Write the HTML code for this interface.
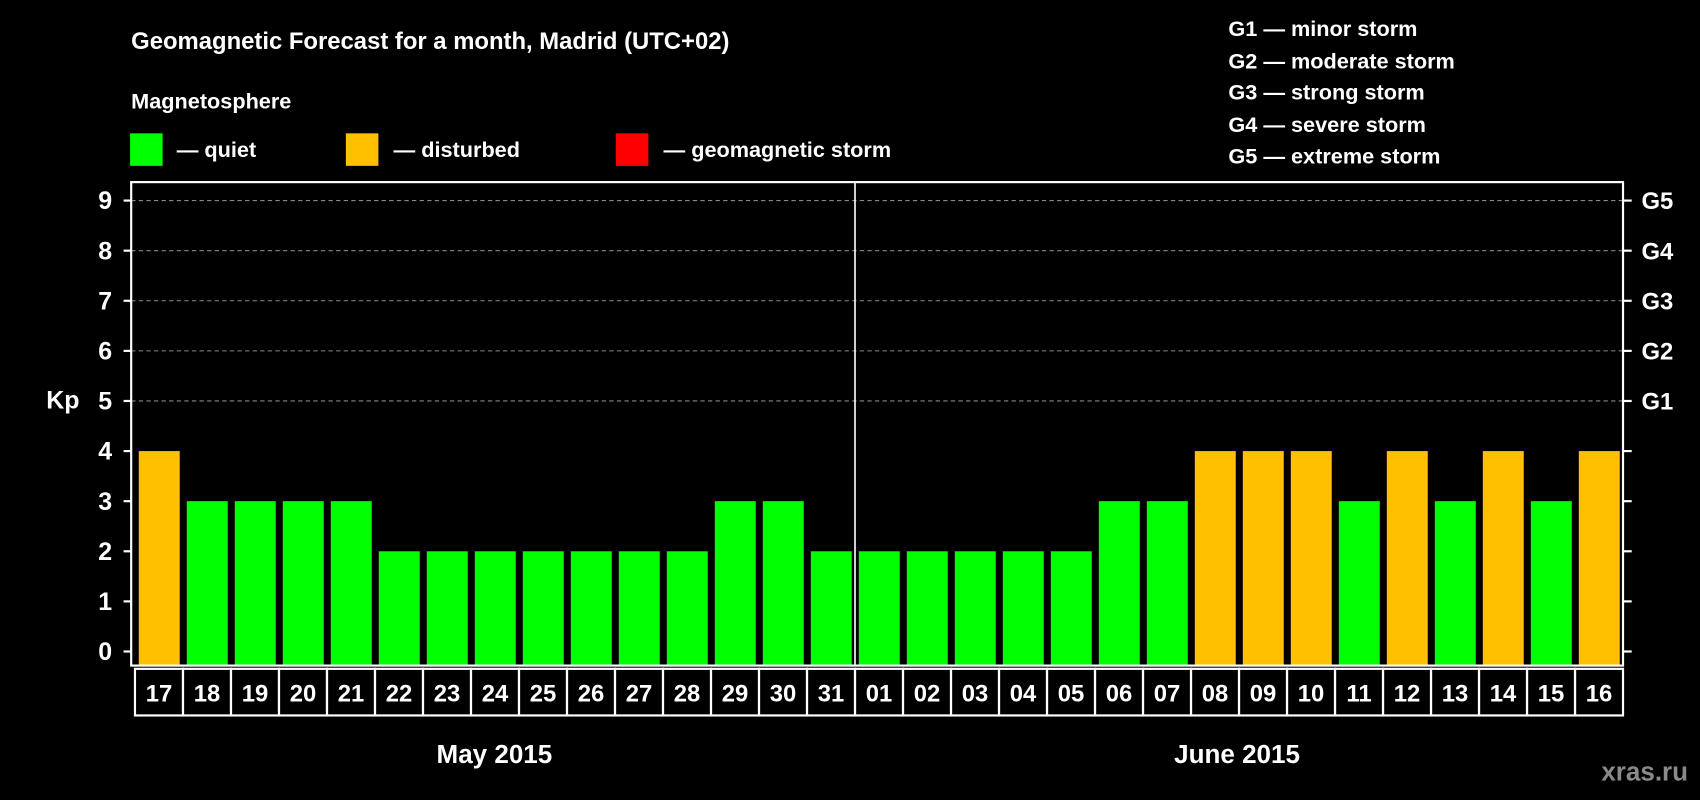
<!DOCTYPE html>
<html><head><meta charset="utf-8"><style>
html,body{margin:0;padding:0;background:#000;}
svg{display:block;font-family:"Liberation Sans",sans-serif;font-weight:bold;}
</style></head><body>
<svg id="chart" width="1700" height="800" viewBox="0 0 1568 738" preserveAspectRatio="none" xmlns="http://www.w3.org/2000/svg">
<rect x="0" y="0" width="1568" height="738" fill="#000"/>
<text x="121" y="45" fill="#fff" font-size="22">Geomagnetic Forecast for a month, Madrid (UTC+02)</text>
<text x="121" y="100" fill="#fff" font-size="20">Magnetosphere</text>
<g>
<rect x="120" y="123" width="30" height="30" fill="#00ff00"/>
<text x="163" y="145" fill="#fff" font-size="20">— quiet</text>
<rect x="319" y="123" width="30" height="30" fill="#ffc000"/>
<text x="363" y="145" fill="#fff" font-size="20">— disturbed</text>
<rect x="568" y="123" width="30" height="30" fill="#ff0000"/>
<text x="612" y="145" fill="#fff" font-size="20">— geomagnetic storm</text>
</g>
<g fill="#fff" font-size="20">
<text x="1133" y="33">G1 — minor storm</text>
<text x="1133" y="63">G2 — moderate storm</text>
<text x="1133" y="92">G3 — strong storm</text>
<text x="1133" y="122">G4 — severe storm</text>
<text x="1133" y="151">G5 — extreme storm</text>
</g>
<text x="58" y="377" fill="#fff" font-size="23" text-anchor="middle">Kp</text>
<g id="grid"></g><g id="bars"></g><g id="axes"></g><g id="xlabels"></g>
<text x="456" y="704" fill="#fff" font-size="24" text-anchor="middle">May 2015</text>
<text x="1141" y="704" fill="#fff" font-size="24" text-anchor="middle">June 2015</text>
<text x="1557" y="720" fill="#8a8a8a" font-size="24" text-anchor="end">xras.ru</text>
</svg>
<script>
const days = ["17","18","19","20","21","22","23","24","25","26","27","28","29","30","31","01","02","03","04","05","06","07","08","09","10","11","12","13","14","15","16"];
const kp = [4,3,3,3,3,2,2,2,2,2,2,2,3,3,2,2,2,2,2,2,3,3,4,4,4,3,4,3,4,3,4];
const yTicks = [0,1,2,3,4,5,6,7,8,9];
const gLabels = ["G1","G2","G3","G4","G5"];
const gLevels = [5,6,7,8,9];

const NS="http://www.w3.org/2000/svg";
const L=124.5, R=1497, T=168, B=614;
const step=(R-L)/days.length;
function x(i){return L+i*step;}
function y(v){return 601-v*46.22;}
function mk(tag,attrs,parent){const e=document.createElementNS(NS,tag);for(const k in attrs)e.setAttribute(k,attrs[k]);parent.appendChild(e);return e;}
const grid=document.getElementById('grid'),bars=document.getElementById('bars'),axes=document.getElementById('axes'),xl=document.getElementById('xlabels');
gLevels.forEach((g,i)=>{
  const ln=mk('line',{x1:121,x2:R,y1:y(g),y2:y(g),stroke:'#888','stroke-dasharray':'4,3','stroke-width':1},grid);
  
  
  const t=mk('text',{x:1514,y:y(g)+8,fill:'#fff','font-size':22},axes);t.textContent=gLabels[i];
  
  
});
kp.forEach((v,i)=>{
  const c=v>=5?'#ff0000':(v>=4?'#ffc000':'#00ff00');
  const r=mk('rect',{x:x(i)+3.5,y:y(v),width:step-6.5,height:B-y(v),fill:c},bars);
  
  
  const b=mk('rect',{x:x(i),y:617,width:step,height:43,fill:'none',stroke:'#fff','stroke-width':2},xl);
  
  
  const t=mk('text',{x:x(i)+step/2,y:647,fill:'#fff','font-size':22,'text-anchor':'middle'},xl);t.textContent=days[i];
  
  
});
const fr=mk('rect',{x:121,y:T,width:R-121,height:B-T,fill:'none',stroke:'#fff','stroke-width':2},axes);


const dv=mk('line',{x1:x(15),x2:x(15),y1:T,y2:B,stroke:'#fff','stroke-width':1.5},axes);


yTicks.forEach(v=>{
  const tk=mk('line',{x1:114,x2:121,y1:y(v),y2:y(v),stroke:'#fff','stroke-width':2},axes);
  
  
  const tr=mk('line',{x1:R,x2:1505,y1:y(v),y2:y(v),stroke:'#fff','stroke-width':2},axes);
  
  
  const t=mk('text',{x:97,y:y(v)+8,fill:'#fff','font-size':23,'text-anchor':'middle'},axes);t.textContent=v;
  
  
});
</script>
</body></html>
